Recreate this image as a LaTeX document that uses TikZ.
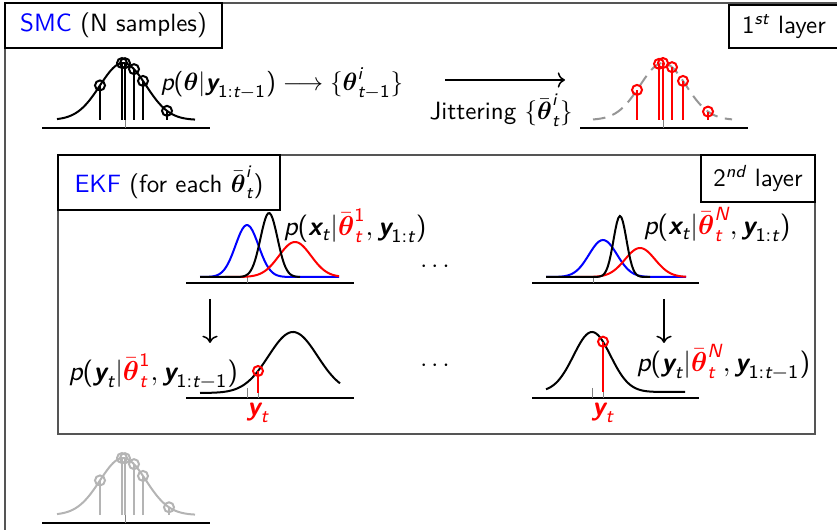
\documentclass[tikz,border=0pt]{standalone}
\usepackage{amsmath}
\usetikzlibrary{calc,arrows.meta,positioning}
\renewcommand{\familydefault}{\sfdefault}
\definecolor{layerBlue}{RGB}{0,0,255}
\definecolor{sampleRed}{RGB}{255,0,0}
\definecolor{frameGray}{RGB}{85,85,85}
\definecolor{ghostGray}{RGB}{180,180,180}
\definecolor{dashGray}{RGB}{150,150,150}
% sans math letters and digits, as in slides
\DeclareSymbolFont{sfletters}{TU}{lmss}{m}{sl}
\SetSymbolFont{sfletters}{bold}{TU}{lmss}{bx}{sl}
\DeclareSymbolFont{sfdigits}{TU}{lmss}{m}{n}
\SetSymbolFont{sfdigits}{bold}{TU}{lmss}{bx}{n}
\makeatletter
\count@=`a
\loop
  \mathcode\count@=\numexpr"7000+\symsfletters*"100+\count@\relax
  \advance\count@\@ne
\ifnum\count@<123 \repeat
\count@=`A
\loop
  \mathcode\count@=\numexpr"7000+\symsfletters*"100+\count@\relax
  \advance\count@\@ne
\ifnum\count@<91 \repeat
\count@=`0
\loop
  \mathcode\count@=\numexpr"7000+\symsfdigits*"100+\count@\relax
  \advance\count@\@ne
\ifnum\count@<58 \repeat
\mathcode`(=\numexpr"4000+\symsfdigits*"100+`(\relax
\mathcode`)=\numexpr"5000+\symsfdigits*"100+`)\relax
\mathcode`:=\numexpr"3000+\symsfdigits*"100+`:\relax
\makeatother
\newcommand{\SampleStem}[4]{% x, foot, head, colour
  \draw[#4,line width=0.8pt] (#1,#2) -- (#1,{#3});
  \draw[#4,line width=0.8pt] (#1,{#3}) circle[radius=2pt];}

\begin{document}
\begin{tikzpicture}[x=0.4pt,y=-0.4pt,
  declare function={gss(\t,\m,\w)=exp(-((\t-\m)^2)/(2*\w*\w));},
  pdf/.style={line width=0.8pt},
  axisline/.style={line width=0.5pt},
  tickmark/.style={gray,line width=0.3pt},
  labelbox/.style={draw,line width=0.5pt,inner sep=0pt},
  framebox/.style={draw=frameGray,line width=0.7pt},
  mathlabel/.style={inner sep=0pt,anchor=base west},
  ekflabel/.style={mathlabel,font=\fontsize{10.9}{13}\selectfont}]
\useasboundingbox (0,0) rectangle (837,530);
\clip (0,0) rectangle (837,530);

% first layer
\draw[framebox] (5,3) rectangle (845,545);
\node[labelbox,minimum width=86.8pt,minimum height=18pt] (smcBox) at (113.5,25.5)
  {\textcolor{layerBlue}{SMC} (N samples)};
\node[labelbox,minimum width=44pt,minimum height=17.2pt] (layerOneBox) at (784,26.5)
  {$1^{st}$ layer};

\draw[axisline] (42,128) -- (210,128);
\draw[tickmark] (125,120) -- (125,128);
\draw[pdf] plot[domain=57:195,samples=70] (\x,{120-57*gss(\x,123,23)});
\foreach \p in {100,122,125,134,143,167}
  \SampleStem{\p}{120}{120-57*gss(\p,123,23)}{black};
\node[mathlabel,font=\fontsize{10.2}{12}\selectfont] (postLabel) at (160,91)
  {$p(\boldsymbol\theta|\boldsymbol y_{1:t-1}) \longrightarrow \{\boldsymbol\theta^i_{t-1}\}$};

\coordinate (jitA) at (445,80);
\coordinate (jitB) at (565,80);
\draw[->,line width=0.6pt] (jitA) -- (jitB);
\node[mathlabel] (jitLabel) at (429,120) {Jittering $\{\bar{\boldsymbol\theta}^i_t\}$};

\draw[axisline] (580,128) -- (748,128);
\draw[tickmark] (663,120) -- (663,128);
\draw[pdf,dashGray,dash pattern=on 5pt off 3pt] plot[domain=593:732,samples=70] (\x,{120-57*gss(\x,663,23)});
\foreach \p in {637,659,663,672,683,708}
  \SampleStem{\p}{120}{120-57*gss(\p,663,23)}{sampleRed};

% second layer
\draw[framebox] (58,155) rectangle (815,434);
\node[labelbox,minimum width=88.8pt,minimum height=22pt] (ekfBox) at (169,182.5)
  {\textcolor{layerBlue}{EKF} (for each $\bar{\boldsymbol\theta}^i_t$)};
\node[labelbox,minimum width=45.6pt,minimum height=18.8pt] (layerTwoBox) at (758,178.5)
  {$2^{nd}$ layer};

\draw[axisline] (186,283) -- (354,283);
\draw[tickmark] (247,277) -- (247,283);
\draw[pdf,blue] plot[domain=200:339,samples=70] (\x,{277-52*gss(\x,247,11.5)});
\draw[pdf,sampleRed] plot[domain=225:339,samples=70] (\x,{277-35*gss(\x,295,16)});
\draw[pdf] plot[domain=200:300,samples=70] (\x,{277-64*gss(\x,269,8.5)});
\node[ekflabel] (predLabelA) at (283,236)
  {$p(\boldsymbol x_t|{\color{sampleRed}\bar{\boldsymbol\theta}^1_t},\boldsymbol y_{1:t})$};

\node (dotsTop) at (437,267) {$\cdots$};

\draw[axisline] (532,283) -- (699,283);
\draw[tickmark] (593,277) -- (593,283);
\draw[pdf,blue] plot[domain=546:686,samples=70] (\x,{277-37*gss(\x,603,14)});
\draw[pdf,sampleRed] plot[domain=575:686,samples=70] (\x,{277-29*gss(\x,640,15)});
\draw[pdf] plot[domain=546:650,samples=70] (\x,{277-61*gss(\x,620,6.5)});
\node[ekflabel] (predLabelN) at (643,235)
  {$p(\boldsymbol x_t|{\color{sampleRed}\bar{\boldsymbol\theta}^N_t},\boldsymbol y_{1:t})$};

\coordinate (downAa) at (210,299);
\coordinate (downAb) at (210,343);
\draw[->,line width=0.6pt] (downAa) -- (downAb);
\coordinate (downNa) at (664,299);
\coordinate (downNb) at (664,343);
\draw[->,line width=0.6pt] (downNa) -- (downNb);

\draw[axisline] (186,398) -- (354,398);
\draw[tickmark] (247,388) -- (247,398);
\draw[tickmark] (258,390) -- (258,398);
\draw[pdf] plot[domain=200:340,samples=70] (\x,{393-61*gss(\x,293,24.5)});
\SampleStem{258}{393}{393-61*gss(258,293,24.5)}{sampleRed}
\node[ekflabel] (likeLabelA) at (68,381)
  {$p(\boldsymbol y_t|{\color{sampleRed}\bar{\boldsymbol\theta}^1_t},\boldsymbol y_{1:t-1})$};
\node[text=sampleRed,font=\fontsize{10.9}{13}\selectfont] (obsA) at (258,413) {$\boldsymbol y_t$};

\node (dotsBottom) at (437,366) {$\cdots$};

\draw[axisline] (532,398) -- (699,398);
\draw[tickmark] (592,388) -- (592,398);
\draw[tickmark] (603,390) -- (603,398);
\draw[pdf] plot[domain=546:685,samples=70] (\x,{392-60*gss(\x,592,18.5)});
\SampleStem{603}{392}{392-60*gss(603,592,18.5)}{sampleRed}
\node[ekflabel] (likeLabelN) at (636,372)
  {$p(\boldsymbol y_t|{\color{sampleRed}\bar{\boldsymbol\theta}^N_t},\boldsymbol y_{1:t-1})$};
\node[text=sampleRed,font=\fontsize{10.9}{13}\selectfont] (obsN) at (603,413) {$\boldsymbol y_t$};

% resampled, next step
\draw[axisline] (42,523) -- (210,523);
\draw[tickmark] (125,515) -- (125,523);
\draw[pdf,ghostGray] plot[domain=57:195,samples=70] (\x,{515-57*gss(\x,123,23)});
\foreach \p in {100,122,125,134,143,169}
  \SampleStem{\p}{515}{515-57*gss(\p,123,23)}{ghostGray};
\end{tikzpicture}
\end{document}
